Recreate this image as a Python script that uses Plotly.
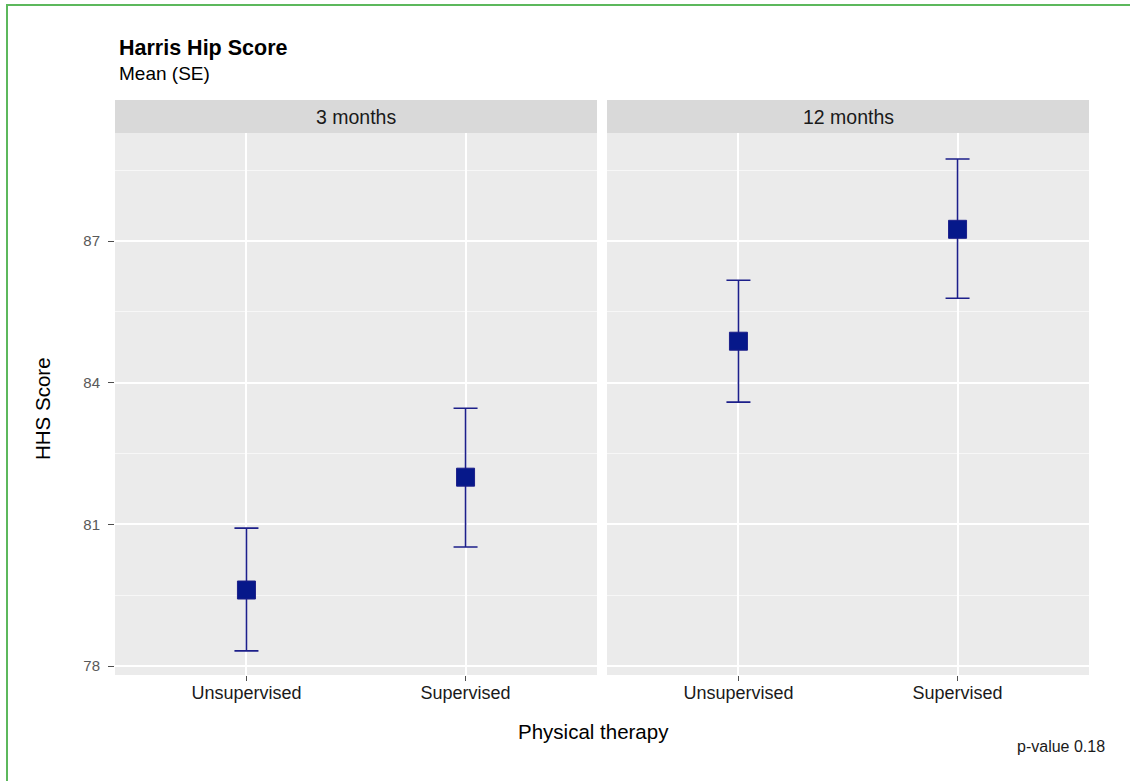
import plotly.graph_objects as go

# ---- data ----
periods = ["3 months", "12 months"]
therapy = ["Unsupervised", "Supervised"]
mean_3m = [79.61, 82.00]
lower_3m = [78.32, 80.52]
upper_3m = [80.92, 83.46]
mean_12m = [84.88, 87.25]
lower_12m = [83.59, 85.79]
upper_12m = [86.17, 88.74]
y_ticks = [78, 81, 84, 87]

W, H = 1130, 781
ML, MR, MT, MB = 115, 41, 100, 106
PW = W - ML - MR
PH = H - MT - MB
FONT = "Liberation Sans"


def px_x(px):
    return (px - ML) / PW


def px_y(py):
    return (H - MB - py) / PH


fig = go.Figure()

LINE = "#1c1f8a"
MARK = "#06188a"

series = [(mean_3m, lower_3m, upper_3m, "x", "y"),
          (mean_12m, lower_12m, upper_12m, "x2", "y2")]
for m, lo, up, xa, ya in series:
    fig.add_trace(go.Scatter(
        x=therapy, y=m, xaxis=xa, yaxis=ya, mode="markers",
        marker=dict(symbol="square", size=18, color=MARK,
                    line=dict(color=LINE, width=1)),
        error_y=dict(type="data", symmetric=False,
                     array=[u - v for u, v in zip(up, m)],
                     arrayminus=[v - l for v, l in zip(m, lo)],
                     color=LINE, thickness=1.6, width=12),
        showlegend=False, hoverinfo="skip"))

ydom_top = px_y(133)
x1dom = [0, px_x(597)]
x2dom = [px_x(607), 1]
yrange = [77.81, 89.29]

common_x = dict(type="category", range=[-0.6, 1.6], showgrid=True,
                gridcolor="white", gridwidth=1.6, zeroline=False,
                ticks="outside", ticklen=5, tickcolor="#4d4d4d", tickwidth=1,
                ticklabelstandoff=-4,
                tickfont=dict(family=FONT, size=18, color="#1a1a1a"),
                showline=False, fixedrange=True)
common_y = dict(range=yrange, tickvals=y_ticks, showgrid=True,
                gridcolor="white", gridwidth=1.6, zeroline=False,
                minor=dict(dtick=1.5, tick0=78, showgrid=True,
                           gridcolor="#f7f7f7", gridwidth=0.8, ticks=""),
                showline=False, fixedrange=True)

fig.update_layout(
    width=W, height=H,
    margin=dict(l=ML, r=MR, t=MT, b=MB),
    paper_bgcolor="white", plot_bgcolor="#ebebeb",
    xaxis=dict(domain=x1dom, anchor="y", **common_x),
    xaxis2=dict(domain=x2dom, anchor="y2", **common_x),
    yaxis=dict(domain=[0, ydom_top], anchor="x", ticks="outside", ticklen=6,
               tickcolor="#4d4d4d", tickwidth=1, ticklabelstandoff=5,
               tickfont=dict(family=FONT, size=15, color="#595959"),
               **common_y),
    yaxis2=dict(domain=[0, ydom_top], anchor="x2", matches="y",
                showticklabels=False, ticks="", **common_y),
    font=dict(family=FONT),
)

shapes = []
for dom in (x1dom, x2dom):
    shapes.append(dict(type="rect", xref="paper", yref="paper",
                       x0=dom[0], x1=dom[1], y0=ydom_top, y1=px_y(100),
                       fillcolor="#d9d9d9", line=dict(width=0), layer="below"))
# green outer border
shapes.append(dict(type="rect", xref="paper", yref="paper",
                   x0=px_x(7), x1=px_x(1140), y0=px_y(5), y1=px_y(800),
                   fillcolor="rgba(0,0,0,0)", line=dict(color="#5cb85c", width=2)))
fig.update_layout(shapes=shapes)

ann = []
for p, dom in zip(periods, (x1dom, x2dom)):
    ann.append(dict(text=p, x=(dom[0] + dom[1]) / 2, y=px_y(117), xref="paper",
                    yref="paper", showarrow=False, xanchor="center", yanchor="middle",
                    font=dict(size=19.5, color="#1a1a1a", family=FONT)))
ann += [
    dict(text="<b>Harris Hip Score</b>", x=px_x(117), y=px_y(48), xref="paper",
         yref="paper", xanchor="left", yanchor="middle", showarrow=False,
         font=dict(size=21.5, color="black", family=FONT)),
    dict(text="Mean (SE)", x=px_x(117), y=px_y(74), xref="paper",
         yref="paper", xanchor="left", yanchor="middle", showarrow=False,
         font=dict(size=19, color="black", family=FONT)),
    dict(text="Physical therapy", x=px_x(593), y=px_y(731), xref="paper",
         yref="paper", xanchor="center", yanchor="middle", showarrow=False,
         font=dict(size=20.5, color="black", family=FONT)),
    dict(text="HHS Score", x=px_x(43), y=px_y(409), xref="paper",
         yref="paper", xanchor="center", yanchor="middle", showarrow=False,
         textangle=-90,
         font=dict(size=20.5, color="black", family=FONT)),
    dict(text="p-value 0.18", x=px_x(1107), y=px_y(746), xref="paper",
         yref="paper", xanchor="right", yanchor="middle", showarrow=False,
         font=dict(size=16, color="#1a1a1a", family=FONT)),
]
fig.update_layout(annotations=ann)

fig.write_html("out.html", config={"displayModeBar": False},
               post_script="document.body.style.margin='0';")
